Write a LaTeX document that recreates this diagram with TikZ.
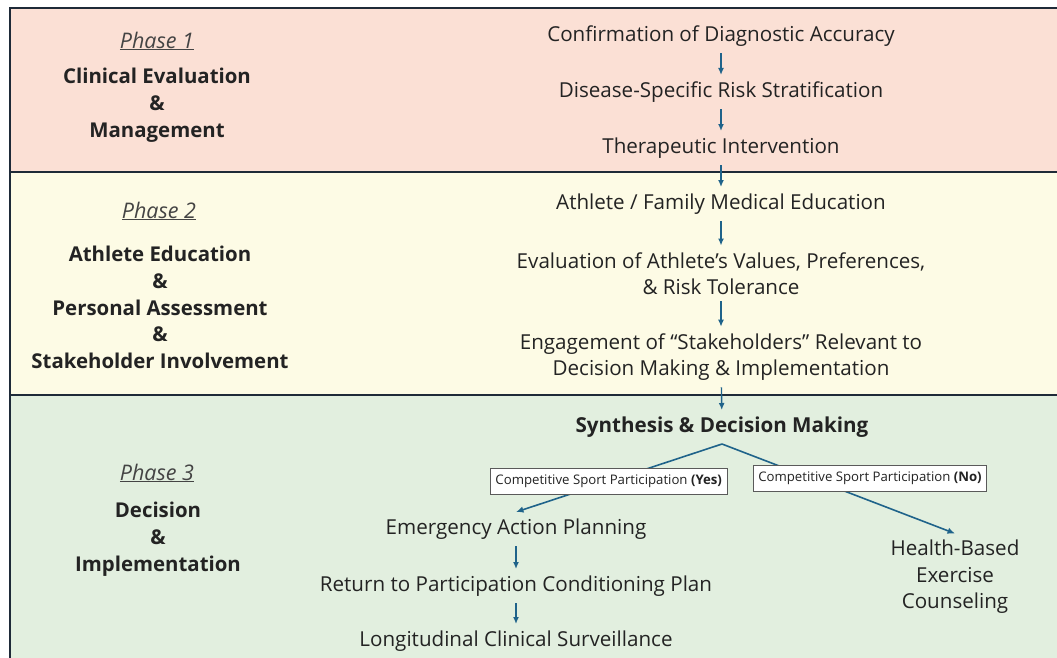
\documentclass[tikz,border=0pt]{standalone}
\usepackage{fontspec}
\setmainfont{Open Sans}
\usetikzlibrary{arrows.meta,positioning}
\definecolor{pinkband}{RGB}{251,224,213}
\definecolor{yellowband}{RGB}{253,251,229}
\definecolor{greenband}{RGB}{226,239,223}
\definecolor{frame}{RGB}{30,42,56}
\definecolor{flow}{RGB}{31,99,138}
\definecolor{ink}{RGB}{35,35,35}

\begin{document}
\begin{tikzpicture}[x=1pt, y=-1pt,
  band/.style={draw=frame, line width=1.6pt},
  stage/.style={text=ink, align=center, inner xsep=2pt, inner ysep=6.5pt, font=\fontsize{20.6}{26.5}\selectfont},
  phase/.style={text=ink!85, font=\fontsize{21.5}{24}\selectfont\itshape},
  title/.style={text=ink, align=center, font=\fontsize{20.4}{26.8}\selectfont\bfseries},
  choice/.style={draw=ink!75, fill=white, line width=0.8pt, inner xsep=5pt, minimum height=26pt, font=\fontsize{13.2}{15}\selectfont, text=ink},
  arr/.style={-{Latex[length=7pt,width=6pt]}, flow, line width=1.4pt},
  link/.style={-{Latex[length=7.5pt,width=6.5pt]}, flow, line width=1.6pt}
]
\useasboundingbox (0,0) rectangle (1057,657);
\clip (0,0) rectangle (1057,657);

% phase bands
\draw[band, fill=pinkband] (10,8) rectangle (1070,172);
\draw[band, fill=yellowband] (10,172) rectangle (1070,395);
\draw[band, fill=greenband] (10,395) rectangle (1070,690);

% left column
\node[phase] (ph1) at (157,41) {\underline{Phase 1}};
\node[title] (ph1t) at (157,105) {Clinical Evaluation\\\&\\Management};
\node[phase] (ph2) at (159,211) {\underline{Phase 2}};
\node[title] (ph2t) at (160,307.5) {Athlete Education\\\&\\Personal Assessment\\\&\\Stakeholder Involvement};
\node[phase] (ph3) at (157,473) {\underline{Phase 3}};
\node[title] (ph3t) at (158,539) {Decision\\\&\\Implementation};

% right column
\node[stage] (conf) at (721,36) {Confirmation of Diagnostic Accuracy};
\node[stage] (risk) at (721,92) {Disease-Specific Risk Stratification};
\node[stage] (ther) at (721,148) {Therapeutic Intervention};
\node[stage] (educ) at (721,204) {Athlete / Family Medical Education};
\node[stage] (vals) at (721,273.5) {Evaluation of Athlete’s Values, Preferences,\\\& Risk Tolerance};
\node[stage] (stake) at (721,357) {Engagement of “Stakeholders” Relevant to\\Decision Making \& Implementation};
\node[stage, font=\fontsize{20.6}{26.5}\selectfont\bfseries] (synth) at (722,427) {Synthesis \& Decision Making};
\node[stage] (emerg) at (516,529) {Emergency Action Planning};
\node[stage] (rtp) at (516,586) {Return to Participation Conditioning Plan};
\node[stage] (surv) at (516,641) {Longitudinal Clinical Surveillance};
\node[stage] (health) at (955,577) {Health-Based\\Exercise\\Counseling};

\draw[arr] (conf) -- (risk);
\draw[arr] (risk) -- (ther);
\draw[arr] (ther) -- (educ);
\draw[arr] (educ) -- (vals);
\draw[arr] (vals) -- (stake);
\draw[arr] (stake) -- (synth);
\draw[arr] (emerg) -- (rtp);
\draw[arr] (rtp) -- (surv);

% decision branches
\draw[link] (synth.south) -- node[choice, pos=0.55] (yes) {Competitive Sport Participation \textbf{(Yes)}} (emerg.north);
\draw[link] (synth.south) -- (health.north);
\node[choice] (no) at (870,478) {Competitive Sport Participation \textbf{(No)}};
\end{tikzpicture}
\end{document}
